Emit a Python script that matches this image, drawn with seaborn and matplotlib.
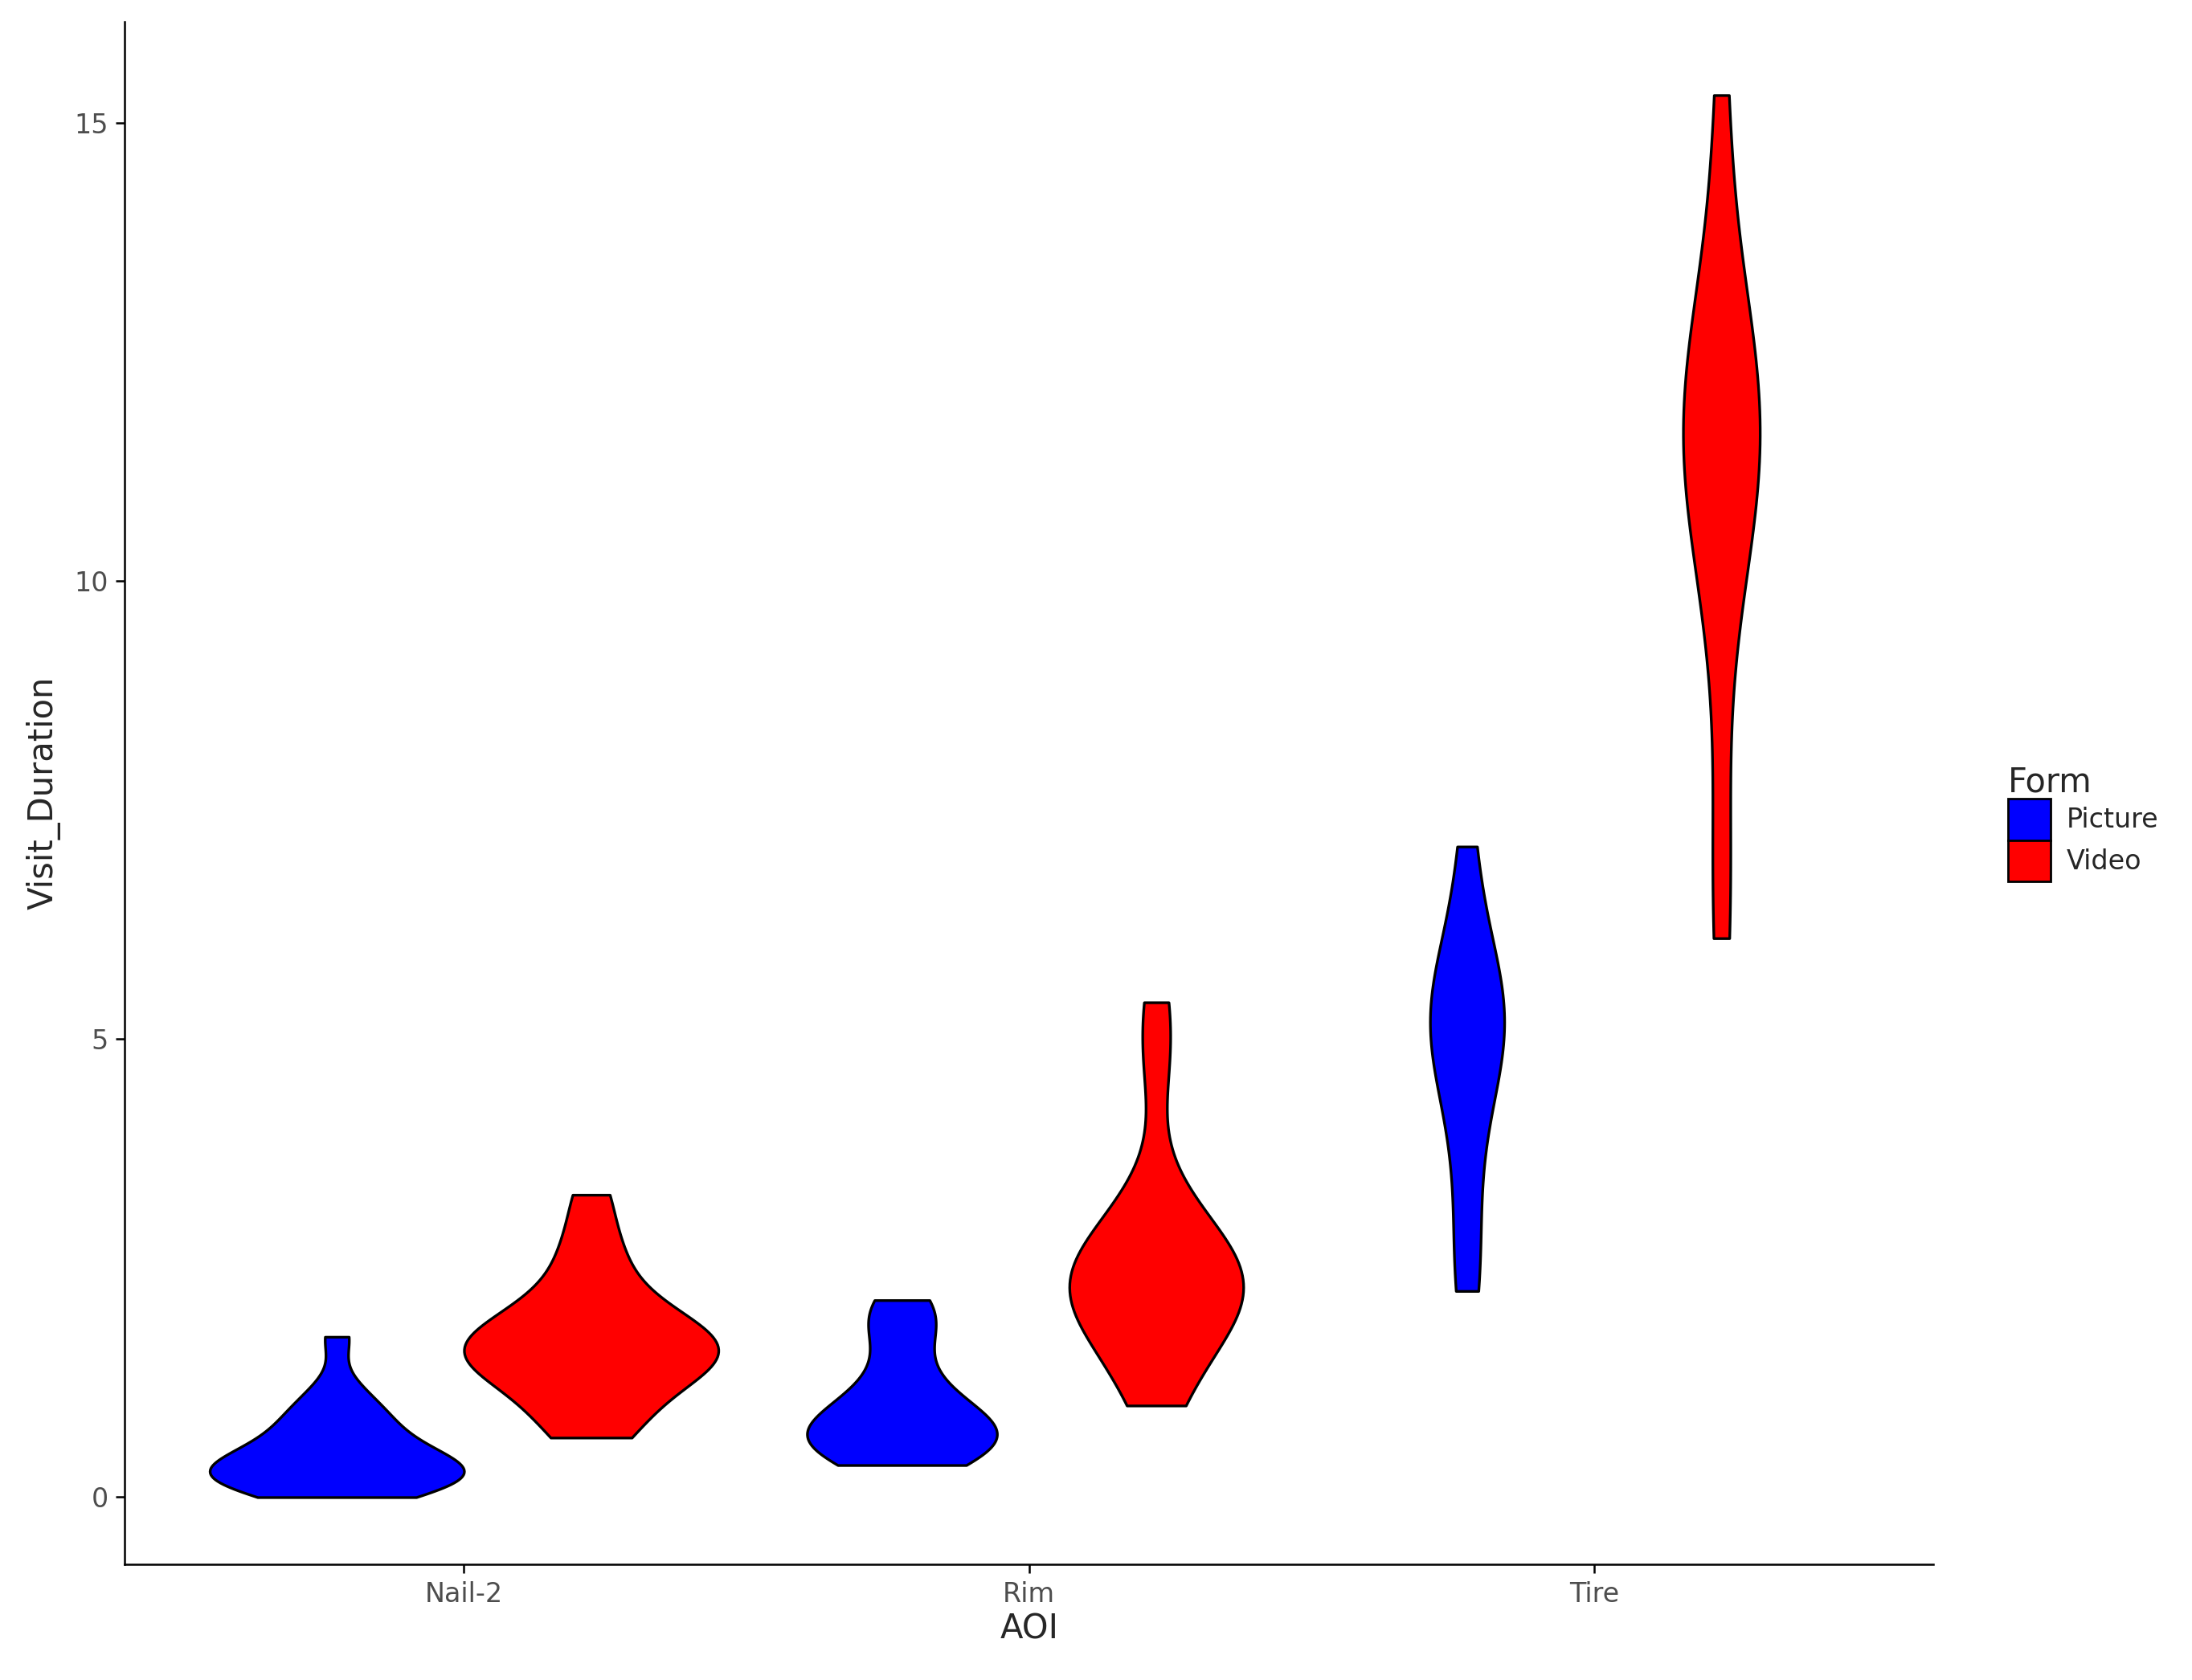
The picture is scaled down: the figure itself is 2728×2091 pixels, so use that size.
import matplotlib
matplotlib.use("Agg")
import matplotlib.pyplot as plt
import seaborn as sns
import pandas as pd
from matplotlib.patches import Patch

nail_picture = [0.0,0.05,0.1,0.15,0.2,0.2,0.25,0.3,0.3,0.35,0.4,0.45,0.5,0.6,0.7,0.8,0.9,1.0,1.2,1.75]
nail_video = [0.65,0.8,1.0,1.2,1.35,1.45,1.5,1.55,1.6,1.65,1.7,1.8,1.9,2.0,2.2,2.5,2.8,3.3]
rim_picture = [0.35,0.4,0.5,0.55,0.6,0.65,0.7,0.75,0.8,0.9,1.0,1.1,1.3,1.6,1.9,2.0,2.15]
rim_video = [1.0,1.3,1.6,1.8,2.0,2.1,2.2,2.3,2.35,2.4,2.5,2.6,2.8,3.0,3.3,4.7,5.4]
tire_picture = [2.25,2.6,3.5,4.2,4.6,4.9,5.1,5.2,5.3,5.5,5.8,6.2,7.1]
tire_video = [6.1,7.2,9.5,10.3,10.8,11.2,11.4,11.6,11.8,12.0,12.3,12.8,13.5,15.3]

aois = ["Nail-2", "Rim", "Tire"]
forms = ["Picture", "Video"]
groups = {("Nail-2","Picture"): nail_picture, ("Nail-2","Video"): nail_video,
          ("Rim","Picture"): rim_picture, ("Rim","Video"): rim_video,
          ("Tire","Picture"): tire_picture, ("Tire","Video"): tire_video}
rows = [(a, f, v) for (a, f), vals in groups.items() for v in vals]
df = pd.DataFrame(rows, columns=["AOI", "Form", "Visit_Duration"])

sns.set_theme(style="white")
fig = plt.figure(figsize=(13.64, 10.455), dpi=200)
ax = fig.add_axes([0.057, 0.069, 0.825, 0.918])
palette = {"Picture": "#0000FF", "Video": "#FF0000"}
sns.violinplot(data=df, x="AOI", y="Visit_Duration", hue="Form", order=aois,
               hue_order=forms, palette=palette, cut=0, inner=None,
               density_norm="area", bw_method="silverman", bw_adjust=0.85, width=0.9, gap=0,
               linewidth=1.2, linecolor="black", saturation=1, ax=ax, legend=False)
ax.set_xlim(-0.6, 2.6)
ax.set_ylim(-0.73, 16.1)
ax.set_yticks([0, 5, 10, 15])
for s in ["top", "right"]:
    ax.spines[s].set_visible(False)
for s in ["left", "bottom"]:
    ax.spines[s].set_color("black"); ax.spines[s].set_linewidth(0.9)
ax.tick_params(axis="both", labelcolor="#4D4D4D", color="black", labelsize=12, length=4,
               width=0.9, left=True, bottom=True)
ax.set_xlabel("AOI", fontsize=15, labelpad=2)
ax.set_ylabel("Visit_Duration", fontsize=15, labelpad=6)
handles = [Patch(facecolor=palette[f], edgecolor="black", label=f) for f in forms]
leg = fig.legend(handles=handles, title="Form", loc="center left", bbox_to_anchor=(0.905, 0.51),
                 frameon=False, fontsize=12, title_fontsize=15, handlelength=1.6, handleheight=2.0,
                 handletextpad=0.6, labelspacing=0.0)
leg._legend_box.align = "left"
fig.savefig("out.png", dpi=200)
